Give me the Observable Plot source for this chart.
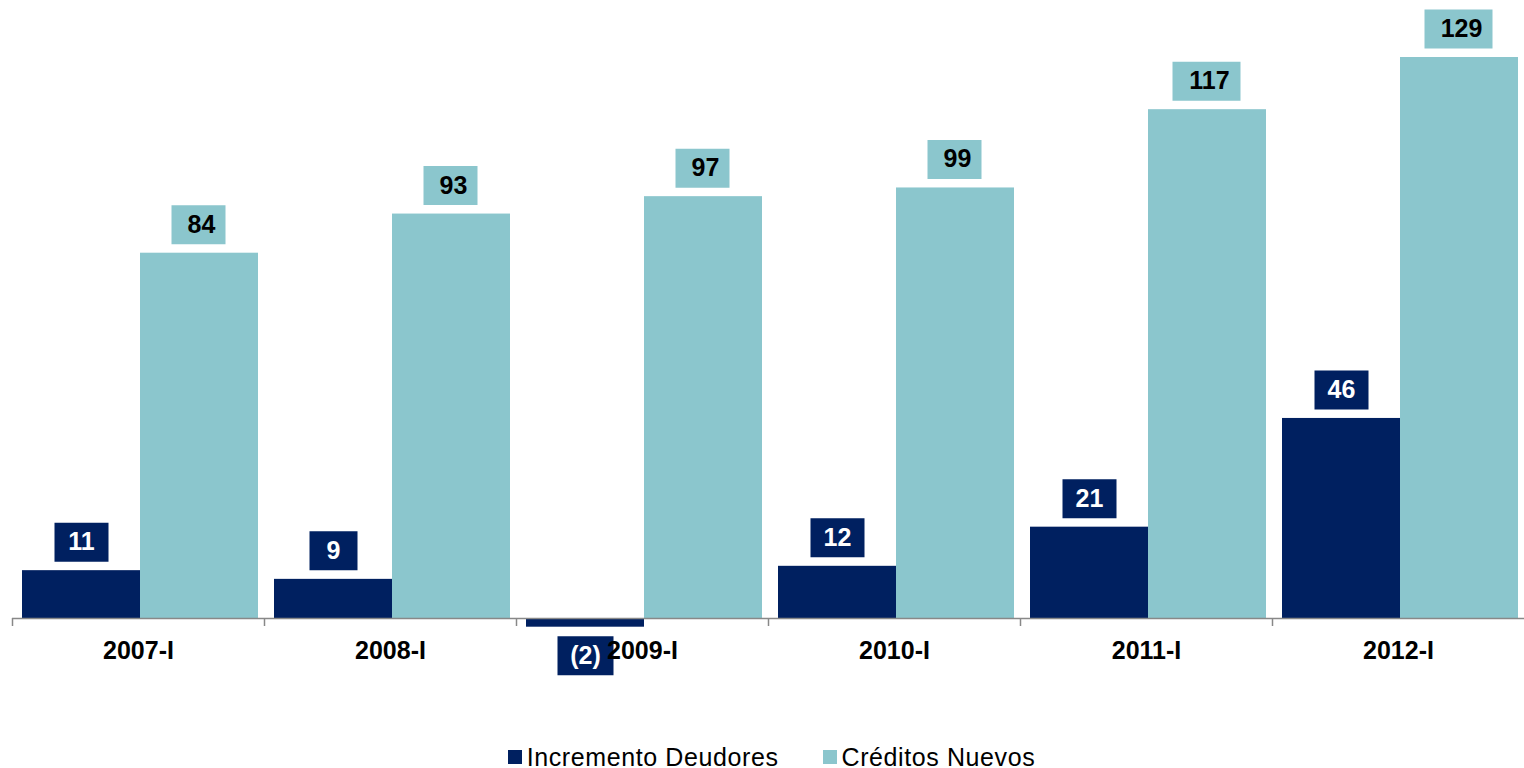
<!DOCTYPE html>
<html><head><meta charset="utf-8">
<script src="https://cdn.jsdelivr.net/npm/d3@7"></script>
<script src="https://cdn.jsdelivr.net/npm/@observablehq/plot@0.6"></script>
<style>
body{margin:0;background:#fff;font-family:"Liberation Sans",Arial,sans-serif;}
#chart svg{display:block;}
#chart g[aria-label="x-axis tick label"] text{font-weight:bold;}
#legend{display:flex;justify-content:center;align-items:center;height:34px;font-size:25px;letter-spacing:0.6px;color:#000;margin-left:19px;}
.item{display:flex;align-items:center;margin:0 22px;}
.sw{width:14px;height:14px;margin-right:5px;}
</style></head><body>
<div id="chart"></div><div id="legend"></div>
<script>
const periods = ["2007-I","2008-I","2009-I","2010-I","2011-I","2012-I"];
const seriesNames = ["Incremento Deudores","Créditos Nuevos"];
const incremento = [11, 9, -2, 12, 21, 46];
const creditos = [84, 93, 97, 99, 117, 129];
const colors = ["#002060", "#8BC6CD"];

const W = 1524, H = 740, ML = 12, MR = 0;
const step = (W - ML - MR) / periods.length;

function fmt(v){ return v < 0 ? "(" + Math.abs(v) + ")" : String(v); }
function boxW(s){ let w = 26; for (const c of s) w += (c === "(" || c === ")") ? 8 : 14; return Math.max(48, w); }

const rows = [];
periods.forEach((p, i) => {
  [incremento[i], creditos[i]].forEach((v, k) => {
    const label = fmt(v);
    rows.push({period: p, series: seriesNames[k], k, value: v, label, w: boxW(label)});
  });
});
const dark = rows.filter(d => d.k === 0);
const light = rows.filter(d => d.k === 1);
const darkPos = dark.filter(d => d.value >= 0);
const darkNeg = dark.filter(d => d.value < 0);

const boxSymbol = {draw(ctx, size){ const w = Math.sqrt(size / Math.PI); const h = 39; ctx.rect(-w/2, -h/2, w, h); }};
const gray = "#888888";
const lbl = {fontSize: 25, fontWeight: "bold", fontFamily: "Liberation Sans"};

const chart = Plot.plot({
  width: W, height: H,
  marginLeft: ML, marginRight: MR, marginTop: 57, marginBottom: 122,
  style: {fontFamily: "Liberation Sans", fontSize: "25px", color: "#000", background: "#fff"},
  x: {domain: periods, padding: 0, axis: null},
  y: {domain: [0, d3.max(creditos)], axis: null},
  r: {type: "identity"},
  marks: [
    Plot.barY(dark, {x: "period", y: "value", fill: colors[0], insetLeft: 10, insetRight: 124}),
    Plot.barY(light, {x: "period", y: "value", fill: colors[1], insetLeft: 128, insetRight: 6}),
    Plot.ruleY([0], {stroke: gray, strokeWidth: 1.5}),
    Plot.ruleX(periods, {x: d => d, y1: 0, y2: 0, dx: -step/2, insetBottom: -8, stroke: gray, strokeWidth: 1.5}),
    Plot.dot(darkPos, {x: "period", y: "value", r: "w", symbol: boxSymbol, fill: colors[0], stroke: null, dx: -57, dy: -28.5}),
    Plot.dot(darkNeg, {x: "period", y: "value", r: "w", symbol: boxSymbol, fill: colors[0], stroke: null, dx: -57, dy: 28.5}),
    Plot.dot(light, {x: "period", y: "value", r: "w", symbol: boxSymbol, fill: colors[1], stroke: null, dx: 60, dy: -28.5}),
    Plot.text(darkPos, {x: "period", y: "value", text: "label", fill: "#fff", dx: -57, dy: -28.5, ...lbl}),
    Plot.text(darkNeg, {x: "period", y: "value", text: "label", fill: "#fff", dx: -57, dy: 28.5, ...lbl}),
    Plot.text(light, {x: "period", y: "value", text: "label", fill: "#000", dx: 63, dy: -28.5, ...lbl}),
    Plot.axisX({tickSize: 0, tickPadding: 23, fontSize: 25, fontWeight: "bold", label: null})
  ]
});
document.getElementById("chart").appendChild(chart);

const legend = document.getElementById("legend");
seriesNames.forEach((n, k) => {
  const it = document.createElement("div"); it.className = "item";
  const sw = document.createElement("div"); sw.className = "sw"; sw.style.background = colors[k];
  const tx = document.createElement("span"); tx.textContent = n;
  it.appendChild(sw); it.appendChild(tx); legend.appendChild(it);
});
</script></body></html>
